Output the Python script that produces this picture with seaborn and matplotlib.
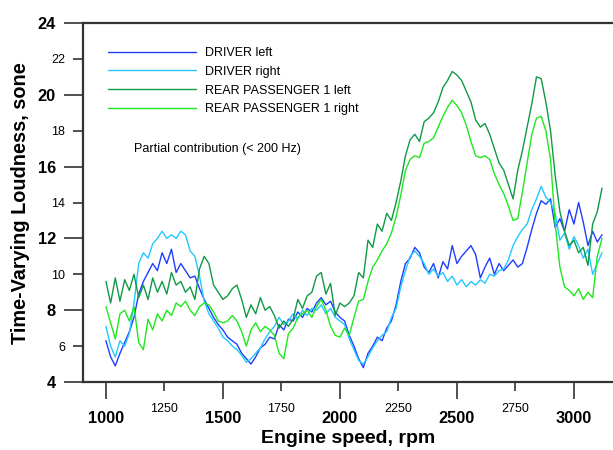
import pandas as pd
import seaborn as sns
import matplotlib.pyplot as plt
from matplotlib.ticker import MultipleLocator, FormatStrFormatter

# engine speed grid, rpm
rpm = list(range(1000, 3121, 20))

driver_left = [
    6.3, 5.4, 4.9, 5.6, 6.2, 6.8, 7.6, 8.9, 9.6, 10.1,
    10.6, 10.2, 11.2, 10.6, 11.4, 10.1, 10.6, 10.2, 9.8, 9.9,
    9.2, 8.6, 8.1, 7.6, 7.2, 6.9, 6.5, 6.3, 6.1, 5.6,
    5.3, 5.0, 5.4, 5.9, 6.1, 6.5, 6.4, 7.2, 6.9, 7.5,
    7.4, 7.9, 7.6, 8.1, 7.9, 8.4, 8.7, 8.3, 8.5, 7.9,
    7.6, 7.4, 6.6, 6.0, 5.3, 4.8, 5.6, 6.0, 6.5, 6.3,
    7.0, 7.4, 8.3, 9.6, 10.6, 10.9, 11.5, 11.2, 10.4, 10.1,
    10.6, 9.8, 10.7, 10.3, 11.6, 10.6, 11.0, 11.3, 11.6, 11.1,
    9.8, 10.4, 10.9, 10.0, 10.6, 10.2, 10.5, 10.8, 10.4, 10.6,
    11.5, 12.5, 13.4, 14.1, 13.9, 14.2, 12.6, 13.1, 12.4, 13.6,
    12.8, 14.0, 12.9, 11.6, 12.4, 11.8, 12.2,
]
driver_right = [
    7.1, 6.0, 5.4, 6.3, 6.0, 6.7, 8.4, 10.6, 11.2, 10.9,
    11.7, 12.0, 12.4, 12.0, 12.2, 12.0, 12.4, 12.2, 11.3, 11.0,
    9.9, 8.5, 7.8, 7.4, 7.0, 6.5, 6.3, 6.0, 5.8, 5.5,
    5.1, 5.3, 5.6, 5.9, 6.4, 6.8, 7.1, 7.6, 7.2, 7.4,
    7.8, 7.5, 8.0, 7.7, 8.1, 8.0, 8.3, 7.8, 8.1, 7.6,
    7.4, 7.2, 6.4, 5.8, 5.2, 5.0, 5.4, 5.9, 6.3, 6.6,
    6.8, 7.6, 8.1, 9.3, 10.2, 11.0, 11.3, 11.0, 10.6, 10.0,
    10.3, 9.9, 10.1, 9.6, 9.9, 9.4, 9.7, 9.3, 9.6, 9.4,
    9.7, 9.5, 10.0, 9.9, 10.2, 10.3, 10.8, 11.6, 12.1, 12.5,
    12.8, 13.6, 14.2, 14.9, 14.3, 14.0, 13.4, 11.9, 12.3, 11.4,
    12.1, 11.6, 10.9, 11.4, 10.0, 10.6, 11.2,
]
rear_left = [
    9.6, 8.4, 9.8, 8.5, 9.7, 9.1, 10.0, 8.7, 9.4, 8.6,
    9.8, 9.0, 9.6, 8.9, 10.1, 9.4, 9.6, 9.0, 9.3, 8.6,
    10.3, 11.0, 10.6, 9.4, 9.0, 8.6, 8.8, 9.2, 9.4, 8.6,
    7.6, 8.3, 7.8, 8.7, 8.0, 8.2, 7.7, 7.0, 7.4, 7.1,
    7.5, 8.6, 8.1, 8.8, 9.0, 9.9, 10.1, 8.9, 9.5, 7.7,
    8.4, 8.2, 8.4, 8.8, 10.1, 9.8, 11.9, 11.5, 12.8, 12.4,
    13.4, 13.0, 14.0, 15.2, 16.6, 17.5, 17.8, 17.4, 18.5, 18.7,
    19.0, 19.6, 20.4, 20.8, 21.3, 21.1, 20.8, 20.2, 19.6, 18.6,
    18.2, 18.4, 17.8, 17.0, 16.2, 15.8, 15.0, 14.2, 15.8, 16.9,
    18.2, 19.5, 21.0, 20.9, 19.6, 18.0, 15.5, 13.5, 12.4, 11.6,
    11.9, 11.2, 11.5, 10.5, 12.8, 13.5, 14.8,
]
rear_right = [
    8.2, 7.3, 6.4, 7.8, 8.0, 7.4, 8.2, 6.2, 5.8, 7.5,
    6.9, 7.8, 7.4, 8.0, 7.7, 8.4, 8.2, 8.5, 8.0, 7.7,
    8.2, 8.4, 8.3, 7.9, 7.4, 7.3, 7.4, 7.7, 7.4, 6.8,
    6.0, 6.9, 7.3, 6.8, 7.1, 6.9, 6.6, 5.6, 5.3, 6.7,
    7.0, 7.6, 7.8, 8.0, 7.6, 8.2, 8.6, 8.0, 7.1, 6.6,
    6.5, 7.0, 6.6, 7.6, 8.5, 8.6, 9.6, 10.4, 10.8, 11.3,
    11.7, 12.3, 13.2, 14.4, 15.8, 16.4, 16.6, 16.5, 17.3, 17.4,
    17.6, 18.2, 18.8, 19.3, 19.7, 19.4, 19.0, 18.3, 17.4, 16.6,
    16.5, 16.6, 16.4, 15.6, 15.0, 14.5, 13.8, 13.0, 13.1, 14.6,
    16.2, 17.8, 18.7, 18.8, 18.0, 16.4, 12.8, 10.4, 9.3, 9.1,
    8.8, 9.2, 8.6, 9.0, 8.7, 11.0, 12.0,
]

series_names = [
    "DRIVER left",
    "DRIVER right",
    "REAR PASSENGER 1 left",
    "REAR PASSENGER 1 right",
]
series_colors = ["#1f3dff", "#22c8ff", "#0f9a45", "#1ee81e"]


def build_frame():
    """
    Stack the four channels into one long table for seaborn.
    """
    frames = []
    for name, vals in zip(series_names, [driver_left, driver_right, rear_left, rear_right]):
        frames.append(pd.DataFrame({"rpm": rpm, "sone": vals, "channel": name}))
    return pd.concat(frames, ignore_index=True)


def main():
    df = build_frame()

    sns.set_style("white")
    plt.rcParams["font.family"] = ["Liberation Sans", "DejaVu Sans"]
    plt.rcParams["text.color"] = "black"
    plt.rcParams["axes.labelcolor"] = "black"

    fig = plt.figure(figsize=(6.13, 4.5), dpi=100)
    ax = fig.add_axes([83 / 613, 68 / 450, 530 / 613, 359 / 450])

    sns.lineplot(
        data=df,
        x="rpm",
        y="sone",
        hue="channel",
        palette=dict(zip(series_names, series_colors)),
        estimator=None,
        linewidth=1.0,
        ax=ax,
    )

    ax.set_xlim(902, 3167)
    ax.set_ylim(4, 24)

    # major ticks get big bold labels, minor ticks small plain ones
    ax.xaxis.set_major_locator(MultipleLocator(500))
    ax.xaxis.set_minor_locator(MultipleLocator(250))
    ax.yaxis.set_major_locator(MultipleLocator(4))
    ax.yaxis.set_minor_locator(MultipleLocator(2))
    ax.xaxis.set_minor_formatter(FormatStrFormatter("%d"))
    ax.yaxis.set_minor_formatter(FormatStrFormatter("%d"))
    ax.xaxis.set_major_formatter(FormatStrFormatter("%d"))
    ax.yaxis.set_major_formatter(FormatStrFormatter("%d"))

    ax.tick_params(axis="x", which="major", direction="out", length=12, width=1.2,
                   pad=9, labelsize=11.8, colors="#333333", labelcolor="black")
    ax.tick_params(axis="x", which="minor", direction="out", length=6.5, width=1.2,
                   pad=8.5, labelsize=9, colors="#333333", labelcolor="black")
    ax.tick_params(axis="y", which="major", direction="out", length=13.5, width=1.2,
                   pad=6, labelsize=11.8, colors="#333333", labelcolor="black")
    ax.tick_params(axis="y", which="minor", direction="out", length=7, width=1.2,
                   pad=6, labelsize=9, colors="#333333", labelcolor="black")
    ax.tick_params(bottom=True, left=True, which="both")

    for lab in ax.get_xticklabels() + ax.get_yticklabels():
        lab.set_fontweight("bold")
    for lab in ax.get_xticklabels(minor=True) + ax.get_yticklabels(minor=True):
        lab.set_fontweight("normal")

    for side in ["top", "left", "bottom"]:
        ax.spines[side].set_color("#333333")
        ax.spines[side].set_linewidth(1.6)
    ax.spines["right"].set_visible(False)

    ax.set_xlabel("Engine speed, rpm", fontsize=14, fontweight="bold")
    ax.set_ylabel("Time-Varying Loudness, sone", fontsize=14.3, fontweight="bold")
    ax.xaxis.set_label_coords(0.5, -0.134)
    ax.yaxis.set_label_coords(-0.1, 0.497)

    handles, labels = ax.get_legend_handles_labels()
    ax.legend(
        handles,
        labels,
        loc="upper left",
        bbox_to_anchor=(108 / 613, 1 - 47 / 450),
        bbox_transform=fig.transFigure,
        frameon=False,
        fontsize=9,
        handlelength=7,
        handletextpad=0.75,
        labelspacing=0.54,
        borderpad=0,
        borderaxespad=0,
    )

    ax.text(134 / 613, 1 - 149 / 450, "Partial contribution (< 200 Hz)",
            transform=fig.transFigure, fontsize=9, va="center", ha="left")

    fig.savefig("out.png", dpi=100)


if __name__ == "__main__":
    main()
